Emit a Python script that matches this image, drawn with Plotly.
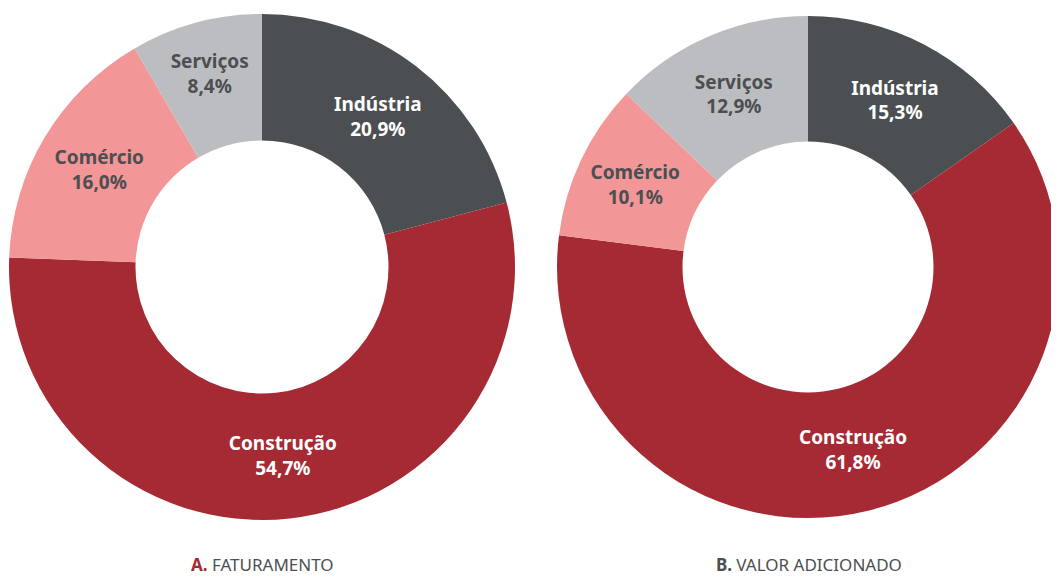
import plotly.graph_objects as go

# dados
setores = ["Indústria", "Construção", "Comércio", "Serviços"]
faturamento = [20.9, 54.7, 16.0, 8.4]
valor_adicionado = [15.3, 61.8, 10.1, 12.9]
cores = ["#4b4f51", "#a62a33", "#f39697", "#bcbdc0"]
cores_texto = ["#ffffff", "#ffffff", "#4b4f51", "#4b4f51"]

OFF = 8  # margem padrão do <body> na página
W, H = 1059 - OFF, 583 - 2 * OFF


def rotulos(vals):
    return [f"{s}<br>{str(v).replace('.', ',')}%" for s, v in zip(setores, vals)]


def px_x(x):
    return (x - OFF) / W


def px_y(y):
    return (H - (y - OFF)) / H


def donut(vals, dom_x):
    return go.Pie(
        values=vals,
        labels=setores,
        text=rotulos(vals),
        textinfo="text",
        hole=0.5,
        sort=False,
        direction="clockwise",
        rotation=0,
        marker=dict(colors=cores, line=dict(width=0)),
        textposition="inside",
        insidetextorientation="horizontal",
        textfont=dict(family="Noto Sans", size=19, color=cores_texto, weight="bold"),
        domain=dict(x=dom_x, y=[px_y(520), px_y(14)]),
        hoverinfo="label+percent",
    )


fig = go.Figure()
fig.add_trace(donut(faturamento, [px_x(9), px_x(515)]))
fig.add_trace(donut(valor_adicionado, [px_x(557), 1.0]))

fig.update_layout(
    width=W,
    height=H,
    showlegend=False,
    margin=dict(l=0, r=0, t=0, b=0),
    paper_bgcolor="#ffffff",
    uniformtext=dict(minsize=19, mode="show"),
    annotations=[
        dict(
            text="<b><span style='color:#a62a33'>A.</span></b> FATURAMENTO",
            x=px_x(262), y=px_y(564), xref="paper", yref="paper",
            xanchor="center", yanchor="middle",
            showarrow=False,
            font=dict(family="Noto Sans", size=17, color="#4b4f51"),
        ),
        dict(
            text="<b>B.</b> VALOR ADICIONADO",
            x=px_x(809), y=px_y(564), xref="paper", yref="paper",
            xanchor="center", yanchor="middle",
            showarrow=False,
            font=dict(family="Noto Sans", size=17, color="#4b4f51"),
        ),
    ],
)

fig.write_html("out.html")
